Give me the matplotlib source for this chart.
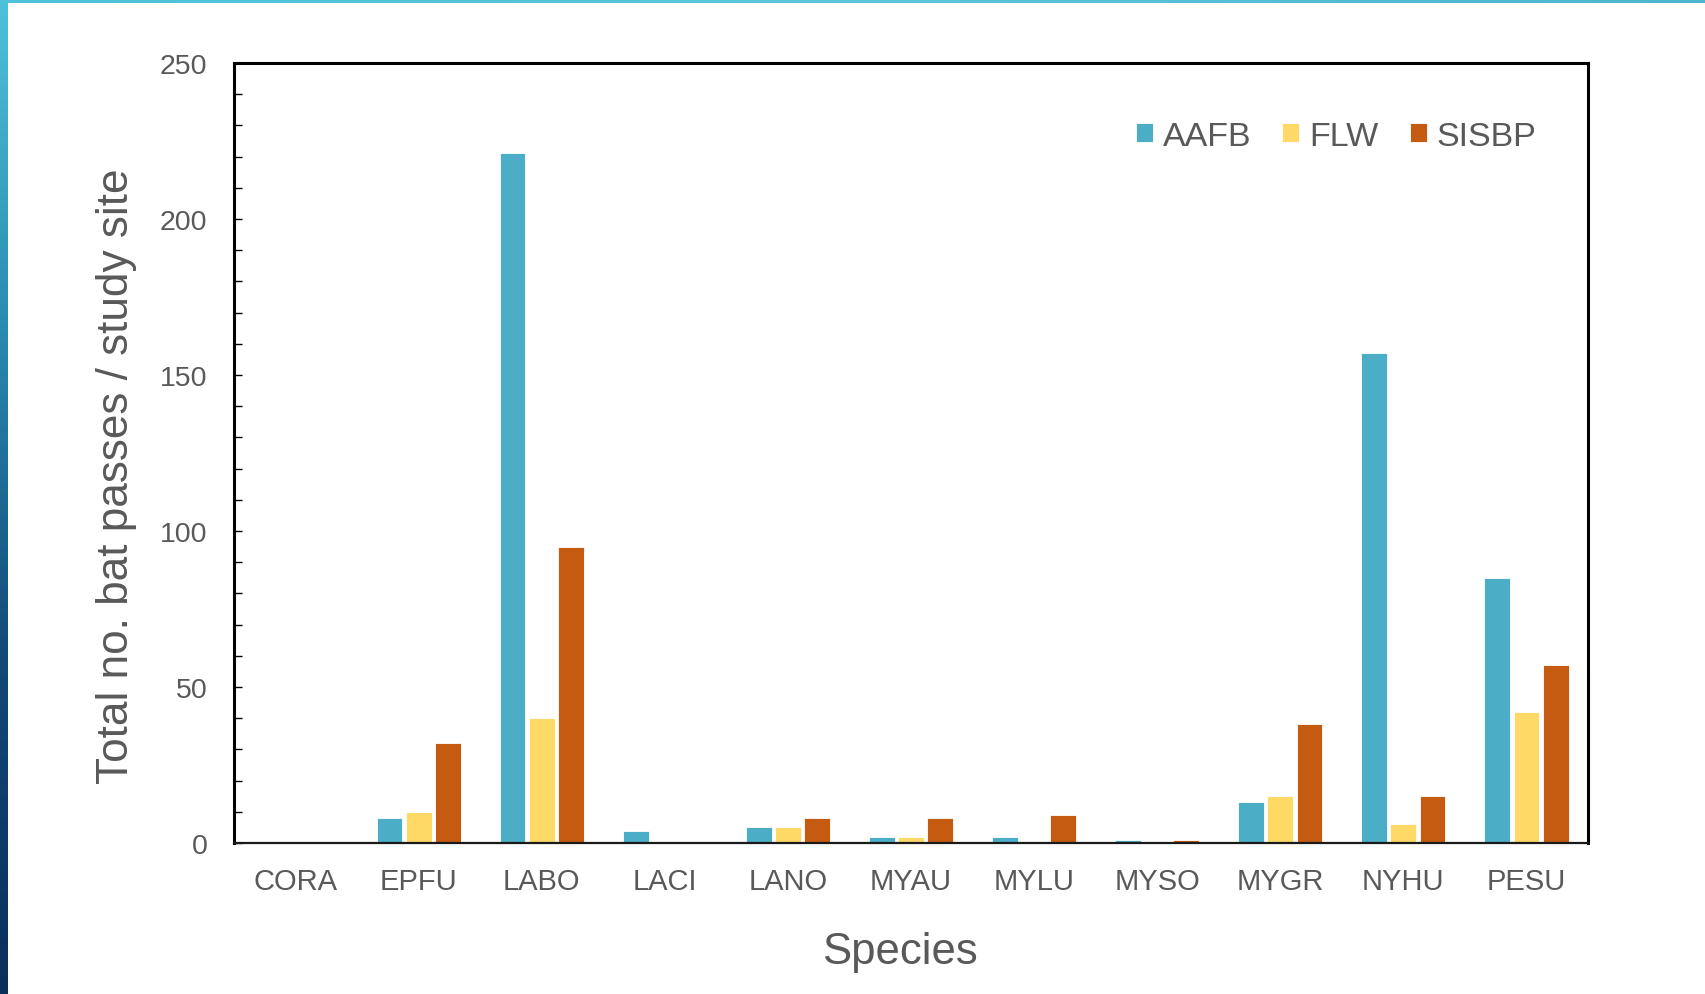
import numpy as np
import matplotlib
matplotlib.use("Agg")
import matplotlib.pyplot as plt
from matplotlib.patches import Patch
from matplotlib.colors import LinearSegmentedColormap
from matplotlib.ticker import MultipleLocator

plt.rcParams['font.family'] = ['Liberation Sans', 'DejaVu Sans']

species = ["CORA", "EPFU", "LABO", "LACI", "LANO", "MYAU", "MYLU", "MYSO", "MYGR", "NYHU", "PESU"]
aafb = [0, 8, 221, 4, 5, 2, 2, 1, 13, 157, 85]
flw = [0, 10, 40, 0, 5, 2, 0, 0, 15, 6, 42]
sisbp = [0, 32, 95, 0, 8, 8, 9, 1, 38, 15, 57]
series_names = ["AAFB", "FLW", "SISBP"]
colors = ["#4BAEC6", "#FFD966", "#C55A11"]
yticks = [0, 50, 100, 150, 200, 250]

W, H = 1706, 995
fig = plt.figure(figsize=(W / 100, H / 100), dpi=100)
fig.patch.set_facecolor("white")

# decorative frame strips
strip = fig.add_axes([0, 0, 8 / W, 1])
grad = np.linspace(0, 1, 256).reshape(-1, 1)
cmap_l = LinearSegmentedColormap.from_list("l", ["#4DC2DA", "#2A8AAE", "#114878", "#0A2F5A"])
strip.imshow(grad, aspect="auto", cmap=cmap_l, extent=[0, 1, 0, 1], origin="upper")
strip.axis("off")
top = fig.add_axes([0, 1 - 3.5 / H, 1, 3.5 / H])
gradh = np.linspace(0, 1, 256).reshape(1, -1)
cmap_t = LinearSegmentedColormap.from_list("t", ["#4DC2DA", "#5CC6DC", "#4CB6CF"])
top.imshow(gradh, aspect="auto", cmap=cmap_t, extent=[0, 1, 0, 1])
top.axis("off")

ax = fig.add_axes([234 / W, 1 - 844 / H, (1588 - 234) / W, (844 - 64) / H])
x = np.arange(len(species))
off = 0.237
bw = 0.21
for i, (vals, name, c) in enumerate(zip([aafb, flw, sisbp], series_names, colors)):
    ax.bar(x + (i - 1) * off, vals, width=bw, color=c, edgecolor="white", linewidth=0.6, label=name, zorder=2)

ax.set_xlim(-0.5, len(species) - 0.5)
ax.set_ylim(0, 250)
ax.set_yticks(yticks)
ax.yaxis.set_minor_locator(MultipleLocator(10))
ax.set_xticks(x)
ax.set_xticklabels(species)

gray = "#595959"
ax.tick_params(axis="y", which="both", direction="in", length=6, width=1.0, color="black",
               labelsize=20.5, labelcolor=gray, pad=19)
ax.tick_params(axis="x", length=0, labelsize=21, labelcolor=gray, pad=17)

for s in ["left", "top", "right"]:
    ax.spines[s].set_linewidth(2.2)
    ax.spines[s].set_color("black")
ax.spines["bottom"].set_linewidth(1.6)
ax.spines["bottom"].set_color("#1a1a1a")
ax.spines["bottom"].set_zorder(3)

ax.set_ylabel("Total no. bat passes / study site", fontsize=31.8, color=gray)
ax.yaxis.set_label_coords(-0.0715, 0.472)
ax.set_xlabel("Species", fontsize=31.5, color=gray)
ax.xaxis.set_label_coords(0.492, -0.113)

handles = [Patch(facecolor=c, edgecolor="white", linewidth=0.6) for c in colors]
leg = ax.legend(handles, series_names, loc="center right", bbox_to_anchor=(0.962, 0.906), ncol=3,
                frameon=False, fontsize=24.5, handlelength=0.5, handleheight=0.5,
                handletextpad=0.3, columnspacing=0.9, borderpad=0, borderaxespad=0)
for t in leg.get_texts():
    t.set_color(gray)

fig.savefig("out.png", dpi=100, facecolor="white")
